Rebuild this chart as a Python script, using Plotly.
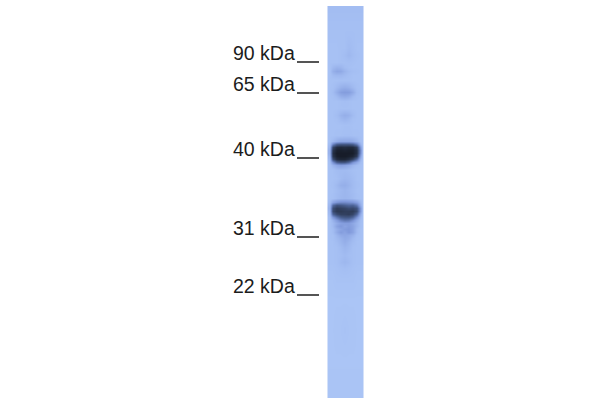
import plotly.graph_objects as go

# molecular weight markers
kda_labels = ["90 kDa", "65 kDa", "40 kDa", "31 kDa", "22 kDa"]
kda_y = [62, 93, 158, 237, 295]

# blot lane, darkness read by eye (0 = background, 100 = darkest)
lane_x = [329, 332, 336, 340, 344, 348, 352, 356, 360, 362]
lane_y = [6.5, 7.5, 30, 48, 55, 62, 67, 71, 75, 80, 87, 92, 96, 101, 108, 115, 119, 125, 135, 141,
          144, 147, 150, 153, 156, 159, 162, 165, 170, 178, 185, 190, 198, 202, 205, 208,
          211, 214, 217, 220, 223, 226, 229, 232, 235, 238, 242, 247, 255, 262, 268, 280, 300, 330, 360, 396.5, 397.5]
lane_z = [
    [10, 10, 10, 10, 10, 10, 10, 10, 10, 10],
    [10, 10, 10, 10, 10, 10, 10, 10, 10, 10],
    [8, 8, 8, 8, 8, 8, 8, 8, 8, 8],
    [7, 7, 7, 8, 8, 11, 9, 7, 7, 7],
    [7, 7, 7, 8, 10, 13, 10, 8, 7, 7],
    [7, 7, 7, 8, 8, 9, 8, 7, 7, 7],
    [7, 12, 15, 14, 10, 8, 7, 7, 7, 7],
    [7, 17, 22, 21, 15, 11, 9, 8, 7, 7],
    [7, 11, 13, 13, 11, 9, 7, 7, 7, 7],
    [7, 7, 7, 8, 8, 8, 7, 7, 7, 7],
    [7, 8, 12, 16, 18, 16, 12, 8, 7, 7],
    [7, 10, 18, 26, 28, 27, 20, 10, 7, 7],
    [7, 8, 12, 18, 20, 18, 12, 8, 7, 7],
    [7, 7, 7, 8, 9, 8, 7, 7, 7, 7],
    [7, 7, 7, 8, 8, 8, 7, 7, 7, 7],
    [7, 7, 10, 15, 18, 16, 11, 7, 7, 7],
    [7, 7, 8, 12, 14, 12, 8, 7, 7, 7],
    [7, 7, 7, 7, 8, 8, 7, 7, 7, 7],
    [7, 7, 8, 8, 9, 9, 8, 8, 7, 7],
    [7, 12, 18, 22, 22, 22, 20, 15, 8, 7],
    [10, 40, 58, 62, 62, 62, 58, 44, 14, 7],
    [13, 70, 86, 88, 86, 88, 87, 76, 26, 7],
    [16, 80, 93, 94, 92, 94, 93, 84, 34, 7],
    [16, 84, 96, 96, 96, 96, 95, 84, 32, 7],
    [13, 80, 94, 96, 96, 94, 90, 76, 22, 7],
    [10, 66, 86, 90, 90, 84, 72, 50, 14, 7],
    [8, 34, 58, 64, 64, 54, 34, 22, 9, 7],
    [7, 15, 22, 26, 24, 20, 14, 10, 7, 7],
    [7, 7, 10, 11, 11, 10, 8, 7, 7, 7],
    [7, 7, 8, 11, 13, 12, 10, 7, 7, 7],
    [7, 8, 12, 17, 18, 15, 11, 8, 7, 7],
    [7, 7, 10, 12, 14, 12, 10, 7, 7, 7],
    [7, 8, 11, 13, 14, 13, 11, 8, 7, 7],
    [10, 24, 32, 36, 36, 34, 32, 26, 13, 7],
    [13, 52, 64, 62, 58, 54, 56, 46, 18, 7],
    [15, 66, 76, 74, 72, 68, 70, 64, 28, 7],
    [13, 68, 78, 78, 76, 76, 77, 68, 28, 7],
    [11, 54, 68, 74, 74, 76, 71, 54, 18, 7],
    [8, 30, 46, 58, 62, 62, 54, 34, 12, 7],
    [7, 16, 28, 40, 46, 44, 34, 20, 9, 7],
    [7, 12, 20, 26, 28, 28, 22, 15, 8, 7],
    [7, 12, 24, 30, 24, 28, 24, 15, 8, 7],
    [7, 10, 18, 24, 28, 30, 24, 12, 7, 7],
    [7, 10, 20, 28, 24, 30, 24, 12, 7, 7],
    [7, 8, 14, 20, 22, 20, 16, 9, 7, 7],
    [7, 8, 12, 16, 20, 18, 12, 8, 7, 7],
    [7, 7, 10, 14, 18, 14, 10, 7, 7, 7],
    [7, 7, 8, 11, 14, 12, 8, 7, 7, 7],
    [7, 7, 8, 9, 11, 9, 8, 7, 7, 7],
    [7, 7, 8, 11, 13, 11, 8, 7, 7, 7],
    [6, 6, 7, 8, 9, 8, 7, 6, 6, 6],
    [5, 5, 6, 6, 6, 6, 6, 5, 5, 5],
    [4, 4, 4, 4, 4, 4, 4, 4, 4, 4],
    [4, 4, 5, 5, 6, 5, 5, 4, 4, 4],
    [4, 4, 4, 4, 4, 4, 4, 4, 4, 4],
    [5, 5, 5, 5, 5, 5, 5, 5, 5, 5],
    [5, 5, 5, 5, 5, 5, 5, 5, 5, 5],
]

blot_scale = [
    [0, "#b0caf8"],
    [0.1, "#a3bdf2"],
    [0.3, "#8099db"],
    [0.55, "#4d6498"],
    [0.8, "#2a364f"],
    [1, "#12161f"],
]

fig = go.Figure()
fig.add_trace(go.Heatmap(x=lane_x, y=lane_y, z=lane_z, zmin=0, zmax=100, zsmooth="best",
                         colorscale=blot_scale, showscale=False, hoverinfo="skip"))

for label, y in zip(kda_labels, kda_y):
    fig.add_annotation(x=296.5, y=y + 4, text=label, showarrow=False, xanchor="right", yanchor="bottom",
                       font=dict(family="Liberation Sans", size=19.5, color="#1c1c1c"))
    fig.add_shape(type="line", x0=297, x1=319, y0=y, y1=y, line=dict(color="#2a2a2a", width=1.6))

fig.update_xaxes(range=[0, 600], visible=False)
fig.update_yaxes(range=[400, 0], visible=False)
fig.update_layout(width=600, height=400, margin=dict(l=0, r=0, t=0, b=0),
                  paper_bgcolor="white", plot_bgcolor="white")
# the page body has an 8px margin by default, drop it so the chart fills the window
fig.write_html("out.html", config={"displayModeBar": False},
               post_script="document.body.style.margin='0';")
